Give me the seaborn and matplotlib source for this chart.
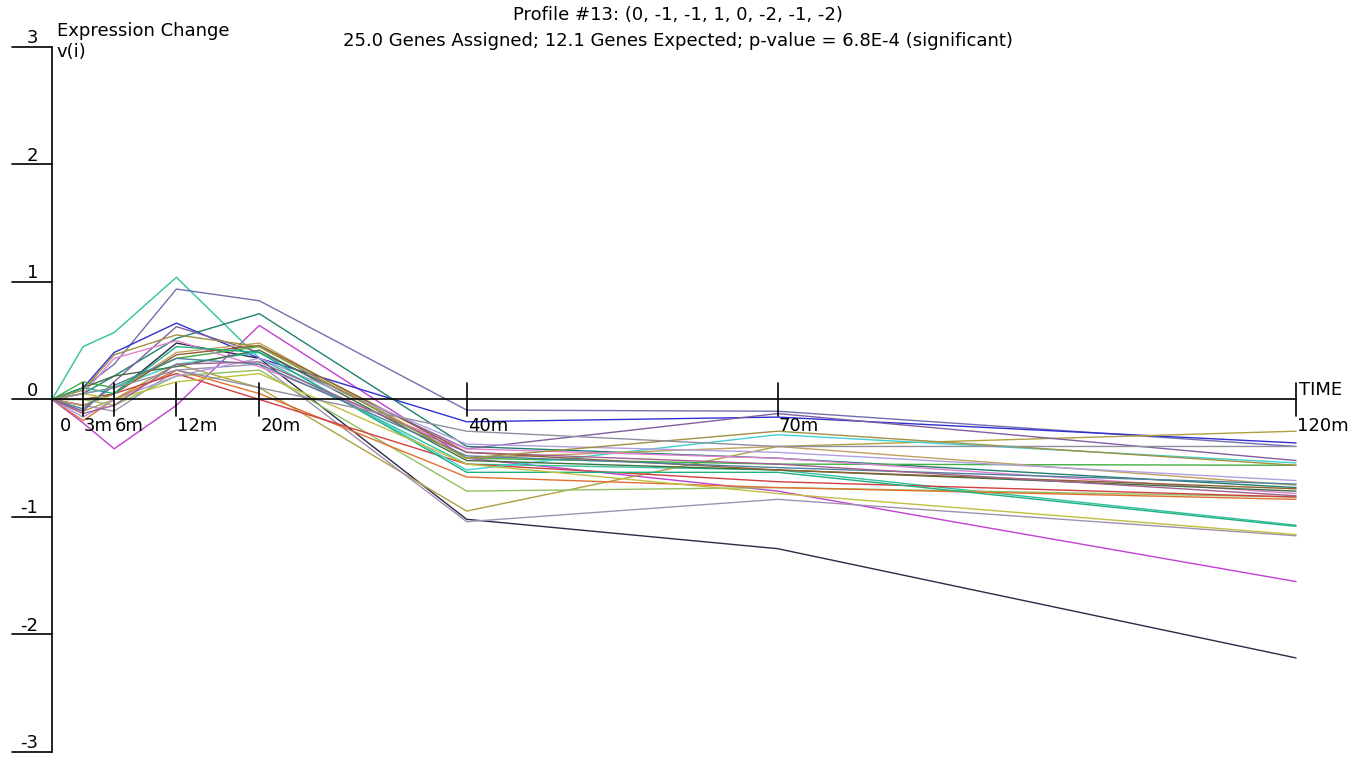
import matplotlib.pyplot as plt
import seaborn as sns
import pandas as pd

# time points (minutes) and their labels
times = [0, 3, 6, 12, 20, 40, 70, 120]
time_labels = ["0", "3m", "6m", "12m", "20m", "40m", "70m", "120m"]
y_ticks = [3, 2, 1, 0, -1, -2, -3]

# expression change of the 25 assigned genes, one row per gene
expression = [
    [0, -0.05, 0.05, 0.48, 0.35, -1.02, -1.27, -2.20],
    [0, -0.20, -0.42, -0.05, 0.63, -0.50, -0.78, -1.55],
    [0, 0.45, 0.57, 1.04, 0.35, -0.55, -0.60, -1.07],
    [0, 0.10, 0.30, 0.94, 0.84, -0.09, -0.10, -0.40],
    [0, 0.10, 0.40, 0.65, 0.35, -0.19, -0.15, -0.37],
    [0, 0.05, 0.20, 0.52, 0.73, -0.40, -0.50, -0.75],
    [0, -0.10, 0.00, 0.30, 0.10, -0.95, -0.40, -0.27],
    [0, -0.05, -0.10, 0.25, 0.30, -1.04, -0.85, -1.16],
    [0, 0.00, -0.05, 0.20, 0.25, -0.78, -0.75, -0.83],
    [0, -0.18, 0.00, 0.25, 0.05, -0.66, -0.75, -0.85],
    [0, -0.05, 0.05, 0.22, 0.00, -0.55, -0.70, -0.83],
    [0, -0.10, 0.15, 0.62, 0.40, -0.42, -0.12, -0.52],
    [0, 0.15, 0.10, 0.35, 0.45, -0.50, -0.55, -0.56],
    [0, 0.05, 0.10, 0.30, 0.40, -0.60, -0.30, -0.54],
    [0, -0.05, 0.05, 0.40, 0.48, -0.50, -0.40, -0.73],
    [0, 0.05, 0.35, 0.50, 0.28, -0.42, -0.50, -0.80],
    [0, 0.10, 0.20, 0.28, 0.42, -0.52, -0.60, -0.78],
    [0, 0.00, 0.05, 0.38, 0.46, -0.45, -0.60, -0.76],
    [0, -0.15, 0.00, 0.20, 0.35, -0.38, -0.45, -0.69],
    [0, 0.10, 0.05, 0.45, 0.40, -0.62, -0.62, -1.08],
    [0, 0.05, 0.00, 0.15, 0.22, -0.55, -0.80, -1.15],
    [0, -0.08, 0.12, 0.35, 0.30, -0.48, -0.58, -0.72],
    [0, -0.12, -0.05, 0.30, 0.32, -0.45, -0.55, -0.82],
    [0, 0.08, 0.38, 0.55, 0.45, -0.50, -0.27, -0.56],
    [0, 0.05, 0.10, 0.25, 0.10, -0.27, -0.40, -0.40],
]
line_colors = [
    "#2a2a48", "#c040d0", "#30c0a0", "#7070b0", "#3030d0",
    "#208070", "#b0a040", "#a090b0", "#90c060", "#e07030",
    "#d04040", "#8060a0", "#40b040", "#40d0d0", "#c0a060",
    "#e080d0", "#407040", "#906030", "#b0a0e0", "#20b080",
    "#c0c040", "#5080a0", "#a06090", "#a09040", "#9090a0",
]

rows = []
for gi, vals in enumerate(expression):
    for t, v in zip(times, vals):
        rows.append({"gene": gi, "time": t, "value": v})
df = pd.DataFrame(rows)

sns.set_style("white")
plt.rcParams["font.family"] = ["DejaVu Sans"]
plt.rcParams["text.color"] = "black"

fig = plt.figure(figsize=(13.57, 7.57), dpi=100)
ax = fig.add_axes([0, 0, 1, 1])
ax.set_xlim(-5.016, 125.88)
ax.set_ylim(-3.043, 3.4)
ax.axis("off")

sns.lineplot(data=df, x="time", y="value", hue="gene", units="gene",
             estimator=None, sort=False, palette=line_colors,
             linewidth=1.0, legend=False, ax=ax)

# axes drawn by hand, STEM style
fs = 13
ax.plot([0, 0], [-3, 3], color="black", lw=1.2)
ax.plot([0, 120], [0, 0], color="black", lw=1.2)
for yt in y_ticks:
    ax.plot([-3.86, 0], [yt, yt], color="black", lw=1.2)
    ax.text(-1.35, yt + 0.03, str(yt), ha="right", va="baseline", fontsize=fs)
for t, lab in zip(times, time_labels):
    if t > 0:
        ax.plot([t, t], [-0.14, 0.14], color="black", lw=1.2)
    ax.text(t + (0.75 if t == 0 else 0.1), -0.15, lab, ha="left", va="top",
            fontsize=fs)

ax.text(120.3, 0.04, "TIME", ha="left", va="baseline", fontsize=fs)
ax.text(0.45, 3.095, "Expression Change", ha="left", va="baseline", fontsize=fs)
ax.text(0.45, 3.03, "v(i)", ha="left", va="top", fontsize=fs)

ax.text(60.4, 3.275, "Profile #13: (0, -1, -1, 1, 0, -2, -1, -2)",
        ha="center", va="center", fontsize=fs)
ax.text(60.4, 3.055,
        "25.0 Genes Assigned; 12.1 Genes Expected; p-value = 6.8E-4 (significant)",
        ha="center", va="center", fontsize=fs)

fig.savefig("out.png", dpi=100)
